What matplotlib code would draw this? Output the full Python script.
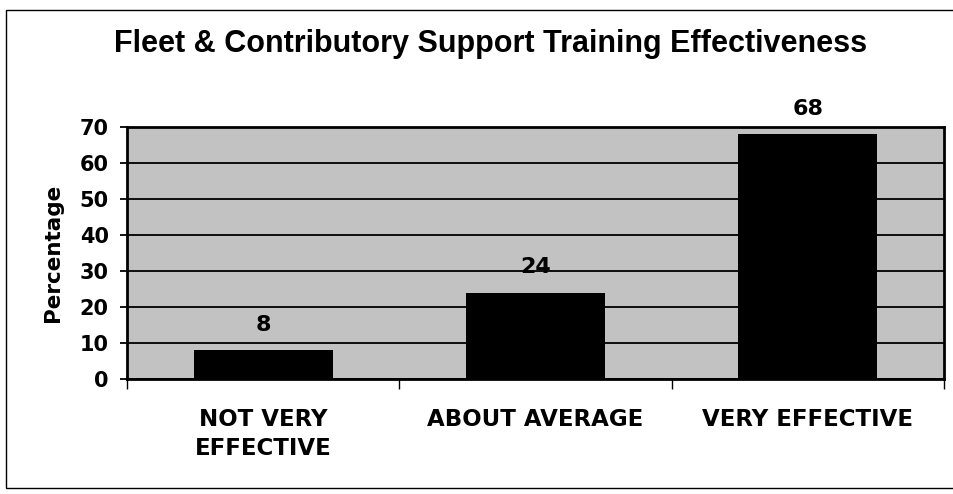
import matplotlib
matplotlib.use("Agg")
import matplotlib.pyplot as plt
from matplotlib.patches import Rectangle

# Données du graphique
categories = ["NOT VERY\nEFFECTIVE", "ABOUT AVERAGE", "VERY EFFECTIVE"]
pourcentages = [8, 24, 68]
graduations = [0, 10, 20, 30, 40, 50, 60, 70]

plt.rcParams['font.family'] = ['DejaVu Sans']

fig = plt.figure(figsize=(9.54, 4.94), dpi=100)
ax = fig.add_axes([0.133, 0.233, 0.8565, 0.51])

# Fond gris et barres noires
ax.set_facecolor('#c2c2c2')
x = list(range(len(categories)))
barres = ax.bar(x, pourcentages, width=0.51, color='black', zorder=3)

# Étiquettes de valeur au-dessus des barres
ax.bar_label(barres, labels=[str(v) for v in pourcentages], padding=11,
             fontsize=16, fontweight='bold')

# Axes
ax.set_xlim(-0.5, len(categories) - 0.5)
ax.set_ylim(0, 70)
ax.set_yticks(graduations)
ax.set_yticklabels([str(g) for g in graduations], fontsize=15,
                   fontweight='bold')
ax.yaxis.grid(True, color='black', linewidth=1.3, zorder=1)
ax.set_axisbelow(True)

ax.set_xticks(x)
ax.set_xticklabels(categories, fontsize=16.5, fontweight='bold',
                   linespacing=1.35, va='top')
ax.tick_params(axis='x', which='major', length=0, pad=21)
ax.set_xticks([-0.5, 0.5, 1.5, 2.5], minor=True)
ax.tick_params(axis='x', which='minor', length=7, width=1, direction='out')
ax.tick_params(axis='y', length=5, width=1.3, pad=8)

for s in ax.spines.values():
    s.set_linewidth(2)

ax.set_ylabel("Percentage", fontsize=15.5, fontweight='bold', labelpad=12)

# Titre
fig.text(0.514, 0.91, "Fleet & Contributory Support Training Effectiveness",
         ha='center', va='center', fontsize=22, fontweight='bold',
         family='Liberation Sans')

# Cadre extérieur
fig.patches.append(Rectangle((0.006, 0.012), 1.2, 0.968, transform=fig.transFigure,
                             fill=False, edgecolor='black', linewidth=1))

fig.savefig("out.png", dpi=100)
